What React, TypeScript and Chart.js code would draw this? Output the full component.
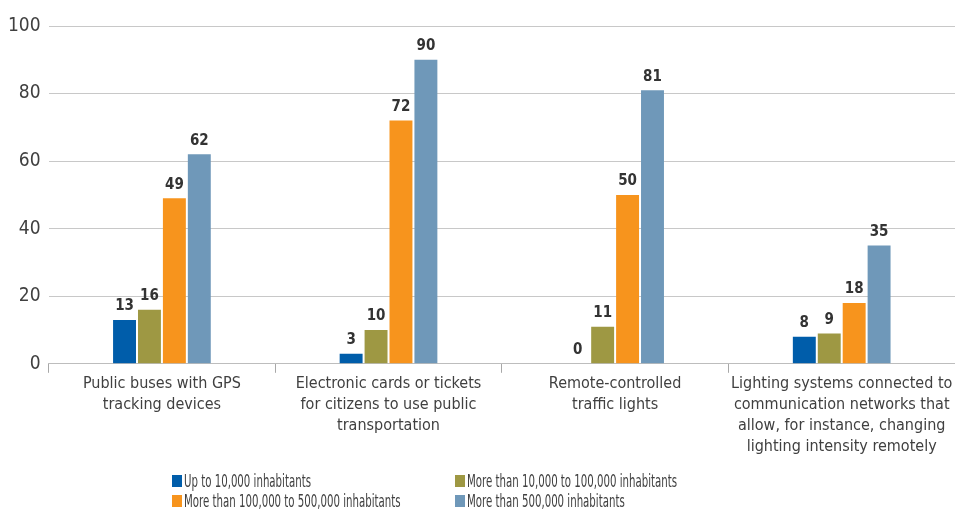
import React, { useEffect, useRef } from "react";
import { Chart, registerables } from "chart.js";

Chart.register(...registerables);

const categories: string[][] = [
  ["Public buses with GPS", "tracking devices"],
  ["Electronic cards or tickets", "for citizens to use public", "transportation"],
  ["Remote-controlled", "traffic lights"],
  ["Lighting systems connected to", "communication networks that", "allow, for instance, changing", "lighting intensity remotely"],
];

const seriesNames = [
  "Up to 10,000 inhabitants",
  "More than 10,000 to 100,000 inhabitants",
  "More than 100,000 to 500,000 inhabitants",
  "More than 500,000 inhabitants",
];

const upTo10k = [13, 3, 0, 8];
const from10kTo100k = [16, 10, 11, 9];
const from100kTo500k = [49, 72, 50, 18];
const over500k = [62, 90, 81, 35];

const yTicks = [0, 20, 40, 60, 80, 100];

const colors = ["#005DAA", "#9E9843", "#F7941D", "#6F98B9"];

const FONT = "'DejaVu Sans Condensed', 'Liberation Sans Narrow', 'Roboto', sans-serif";

const valueLabels = {
  id: "valueLabels",
  afterDatasetsDraw(chart: any) {
    const ctx = chart.ctx;
    ctx.save();
    ctx.font = `bold 15px ${FONT}`;
    ctx.fillStyle = "#333333";
    ctx.textAlign = "center";
    ctx.textBaseline = "bottom";
    chart.data.datasets.forEach((ds: any, i: number) => {
      const meta = chart.getDatasetMeta(i);
      meta.data.forEach((bar: any, j: number) => {
        ctx.fillText(String(ds.data[j]), bar.x, bar.y - 6);
      });
    });
    ctx.restore();
  },
};

export default function App() {
  const canvasRef = useRef<HTMLCanvasElement | null>(null);

  useEffect(() => {
    document.body.style.margin = "0";
    const data = [upTo10k, from10kTo100k, from100kTo500k, over500k];
    const chart = new Chart(canvasRef.current as HTMLCanvasElement, {
      type: "bar",
      data: {
        labels: categories,
        datasets: data.map((d, i) => ({
          label: seriesNames[i],
          data: d,
          backgroundColor: colors[i],
          categoryPercentage: 0.44,
          barPercentage: 0.92,
        })),
      },
      options: {
        animation: false,
        responsive: false,
        maintainAspectRatio: false,
        layout: { padding: { top: 26, right: 0, bottom: 52, left: 0 } },
        plugins: {
          legend: { display: false },
          tooltip: { enabled: false },
        },
        scales: {
          x: {
            grid: {
              display: true,
              drawOnChartArea: false,
              offset: true,
              tickLength: 9,
              color: "#A8A8A8",
            },
            border: { display: true, color: "#BDBDBD" },
            ticks: {
              color: "#404040",
              font: { family: FONT, size: 16, lineHeight: 1.3 },
              maxRotation: 0,
              autoSkip: false,
              padding: 1,
            },
          },
          y: {
            min: 0,
            max: 100,
            afterBuildTicks: (axis: any) => {
              axis.ticks = yTicks.map((v) => ({ value: v }));
            },
            grid: { color: "#C8C8C8", drawTicks: false, lineWidth: 1 },
            border: { display: false },
            ticks: {
              color: "#404040",
              font: { family: FONT, size: 19 },
              padding: 8,
            },
          },
        },
      },
      plugins: [valueLabels],
    });
    return () => chart.destroy();
  }, []);

  const legendItem = (i: number, left: number, top: number) => (
    <div
      key={i}
      style={{
        position: "absolute",
        left,
        top,
        height: 20,
        width: 300,
        fontFamily: FONT,
        fontSize: 18,
        color: "#404040",
        whiteSpace: "nowrap",
        lineHeight: "20px",
      }}
    >
      <span
        style={{
          position: "absolute",
          left: 0,
          top: 4,
          width: 10,
          height: 12,
          background: colors[i],
        }}
      />
      <span
        style={{
          position: "absolute",
          left: 12,
          top: 0,
          transform: "scaleX(0.63)",
          transformOrigin: "left center",
        }}
      >
        {seriesNames[i]}
      </span>
    </div>
  );

  return (
    <div style={{ position: "relative", width: 955, height: 510 }}>
      <canvas ref={canvasRef} width={955} height={510} style={{ display: "block" }} />
      {legendItem(0, 172, 471)}
      {legendItem(1, 455, 471)}
      {legendItem(2, 172, 491)}
      {legendItem(3, 455, 491)}
    </div>
  );
}
